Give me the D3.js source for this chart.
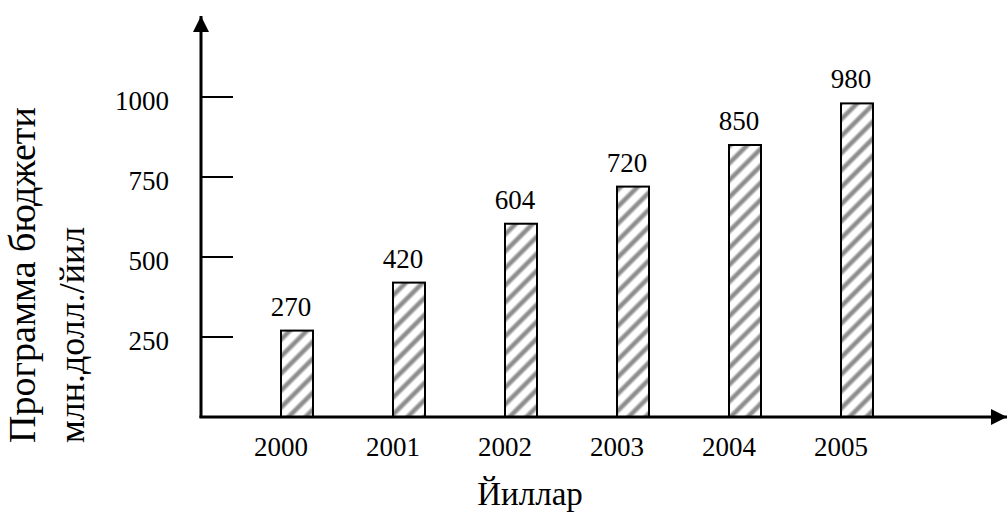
<!DOCTYPE html>
<html>
<head>
<meta charset="utf-8">
<script src="https://cdn.jsdelivr.net/npm/d3@7"></script>
<style>
  html, body { margin: 0; padding: 0; background: #fff; }
</style>
</head>
<body>
<svg id="chart" width="1008" height="514"></svg>
<script>
// Program budget by year, million dollars per year
const years = ["2000", "2001", "2002", "2003", "2004", "2005"];
const budget = [270, 420, 604, 720, 850, 980];
const yTicks = [250, 500, 750, 1000];
const yTitle = "Программа бюджети";
const ySubtitle = "млн.долл./йил";
const xTitle = "Йиллар";

const serif = "Liberation Serif";
const svg = d3.select("#chart").attr("font-family", serif);
const originX = 201, originY = 417;

const x = d3.scalePoint().domain(years).range([297, 857]);
const y = d3.scaleLinear().domain([0, 1000]).range([originY, 97]);
const barW = 32;

// soft diagonal hatch for the bars
const defs = svg.append("defs");
const grad = defs.append("linearGradient")
  .attr("id", "hatch")
  .attr("gradientUnits", "userSpaceOnUse")
  .attr("spreadMethod", "repeat")
  .attr("x1", 0).attr("y1", 0).attr("x2", 8.5).attr("y2", 8.5);
[[0, "#ffffff"], [0.2, "#ffffff"], [0.42, "#8e8e8e"], [0.58, "#8e8e8e"], [0.8, "#ffffff"], [1, "#ffffff"]]
  .forEach(([o, c]) => grad.append("stop").attr("offset", o).attr("stop-color", c));

defs.append("marker")
  .attr("id", "arrow")
  .attr("viewBox", "0 0 10 10")
  .attr("refX", 10).attr("refY", 5)
  .attr("markerWidth", 16).attr("markerHeight", 16)
  .attr("markerUnits", "userSpaceOnUse")
  .attr("orient", "auto")
  .append("path").attr("d", "M0,0 L10,5 L0,10 Z").attr("fill", "#000");

// bars
svg.append("g").selectAll("rect")
  .data(budget)
  .join("rect")
  .attr("x", (d, i) => x(years[i]) - barW / 2)
  .attr("y", d => y(d))
  .attr("width", barW)
  .attr("height", d => originY - y(d))
  .attr("fill", "url(#hatch)")
  .attr("stroke", "#000")
  .attr("stroke-width", 2);

// value labels
svg.append("g").selectAll("text")
  .data(budget)
  .join("text")
  .attr("x", (d, i) => x(years[i]) - 6)
  .attr("y", d => y(d) - 15)
  .attr("text-anchor", "middle")
  .attr("font-size", 27)
  .attr("fill", "#000")
  .text(d => d);

// axes with arrowheads
svg.append("line")
  .attr("x1", originX).attr("y1", originY + 1)
  .attr("x2", originX).attr("y2", 16)
  .attr("stroke", "#000").attr("stroke-width", 3)
  .attr("marker-end", "url(#arrow)");
svg.append("line")
  .attr("x1", originX - 1.5).attr("y1", originY)
  .attr("x2", 1007).attr("y2", originY)
  .attr("stroke", "#000").attr("stroke-width", 3)
  .attr("marker-end", "url(#arrow)");

// y ticks and labels
const tg = svg.append("g").selectAll("g")
  .data(yTicks)
  .join("g")
  .attr("transform", d => `translate(0,${y(d)})`);
tg.append("line")
  .attr("x1", originX).attr("x2", originX + 32)
  .attr("stroke", "#000").attr("stroke-width", 2);
tg.append("text")
  .attr("x", 169).attr("y", 13)
  .attr("text-anchor", "end")
  .attr("font-size", 27)
  .text(d => d);

// year labels
svg.append("g").selectAll("text")
  .data(years)
  .join("text")
  .attr("x", d => x(d) - 16)
  .attr("y", 456)
  .attr("text-anchor", "middle")
  .attr("font-size", 27)
  .text(d => d);

// titles
svg.append("text")
  .attr("x", 530).attr("y", 505)
  .attr("text-anchor", "middle")
  .attr("font-size", 33)
  .text(xTitle);
svg.append("text")
  .attr("transform", "translate(35,443) rotate(-90)")
  .attr("text-anchor", "start")
  .attr("font-size", 38)
  .text(yTitle);
svg.append("text")
  .attr("transform", "translate(84,443) rotate(-90)")
  .attr("text-anchor", "start")
  .attr("font-size", 36)
  .text(ySubtitle);
</script>
</body>
</html>
